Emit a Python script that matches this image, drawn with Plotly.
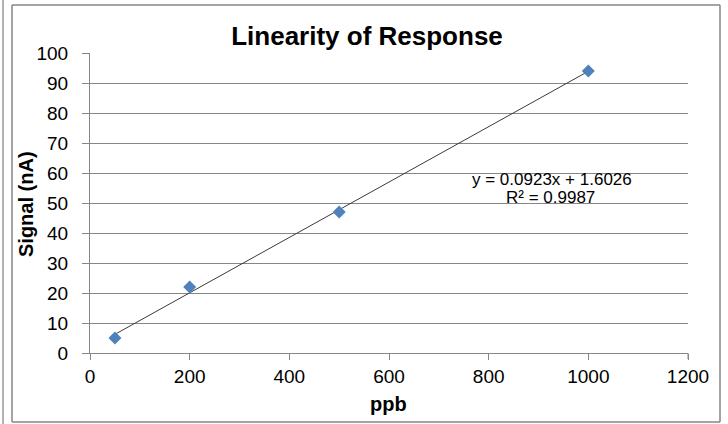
import numpy as np
import plotly.graph_objects as go

# Data
ppb = [50, 200, 500, 1000]
signal = [5, 22, 47, 94]
slope = 0.0923
intercept = 1.6026
eq_line1 = "y = 0.0923x + 1.6026"
eq_line2 = "R² = 0.9987"
title_text = "Linearity of Response"
x_title = "ppb"
y_title = "Signal (nA)"

W, H = 728, 424
L, R, T, B = 90, 40, 53, 71
pw, ph = W - L - R, H - T - B

def px(x):
    return (x - L) / pw

def py(y):
    return (H - B - y) / ph

trend_x = np.array([min(ppb), max(ppb)], dtype=float)
trend_y = slope * trend_x + intercept

fig = go.Figure()
fig.add_trace(go.Scatter(x=trend_x, y=trend_y, mode="lines",
                         line=dict(color="#3a3a3a", width=1), hoverinfo="skip"))
fig.add_trace(go.Scatter(x=ppb, y=signal, mode="markers",
                         marker=dict(symbol="diamond", size=10, color="#4F81BD",
                                     line=dict(width=0))))

FONT = "Liberation Sans, Arial"
axis_font = dict(family=FONT, size=19, color="#000000")
fig.update_layout(
    width=W, height=H,
    margin=dict(l=L, r=R, t=T, b=B, pad=0, autoexpand=False),
    paper_bgcolor="white", plot_bgcolor="white",
    showlegend=False,
    title=dict(text="<b>" + title_text + "</b>", x=(367 - L) / pw, xref="paper",
               xanchor="center", y=1 - 36 / H, yanchor="middle", automargin=False,
               font=dict(family=FONT, size=26, color="#000000")),
    xaxis=dict(range=[0, 1200], tick0=0, dtick=200, showgrid=False, zeroline=False,
               showline=True, linecolor="#868686", linewidth=1,
               ticks="outside", ticklen=6, tickcolor="#868686", automargin=False,
               tickfont=axis_font, ticklabelstandoff=0),
    yaxis=dict(range=[0, 100], tick0=0, dtick=10, showgrid=True, gridcolor="#868686",
               gridwidth=1, zeroline=False, showline=True, linecolor="#868686", linewidth=1,
               ticks="outside", ticklen=7, tickcolor="#868686", automargin=False,
               tickfont=axis_font, ticklabelstandoff=10),
    annotations=[
        dict(text=eq_line1, x=px(552), y=py(179.5), xref="paper", yref="paper",
             showarrow=False, xanchor="center", yanchor="middle",
             font=dict(family=FONT, size=17, color="#000")),
        dict(text=eq_line2, x=px(550), y=py(197), xref="paper", yref="paper",
             showarrow=False, xanchor="center", yanchor="middle",
             font=dict(family=FONT, size=17, color="#000")),
        dict(text="<b>" + x_title + "</b>", x=px(388), y=py(404), xref="paper", yref="paper",
             showarrow=False, xanchor="center", yanchor="middle",
             font=dict(family=FONT, size=20, color="#000")),
        dict(text="<b>" + y_title + "</b>", x=px(26), y=py(204), xref="paper", yref="paper",
             showarrow=False, xanchor="center", yanchor="middle", textangle=-90,
             font=dict(family=FONT, size=20, color="#000")),
    ],
    shapes=[
        dict(type="line", xref="paper", yref="paper", x0=px(12), x1=px(720),
             y0=py(5), y1=py(5), line=dict(color="#868686", width=1.5)),
        dict(type="line", xref="paper", yref="paper", x0=px(12), x1=px(720),
             y0=py(422), y1=py(422), line=dict(color="#868686", width=1.5)),
        dict(type="line", xref="paper", yref="paper", x0=px(12), x1=px(12),
             y0=py(5), y1=py(422), line=dict(color="#868686", width=1.5)),
        dict(type="line", xref="paper", yref="paper", x0=px(720), x1=px(720),
             y0=py(5), y1=py(422), line=dict(color="#868686", width=1.5)),
        dict(type="line", xref="paper", yref="paper", x0=px(3), x1=px(3),
             y0=py(424), y1=py(0), line=dict(color="#9a9a9a", width=1.5)),
        dict(type="line", xref="paper", yref="paper", x0=1, x1=1,
             y0=0, y1=py(359), line=dict(color="#868686", width=1)),
    ],
)

fig.write_html("out.html", config={"displayModeBar": False},
               post_script="document.body.style.margin='0';document.body.style.padding='0';")
